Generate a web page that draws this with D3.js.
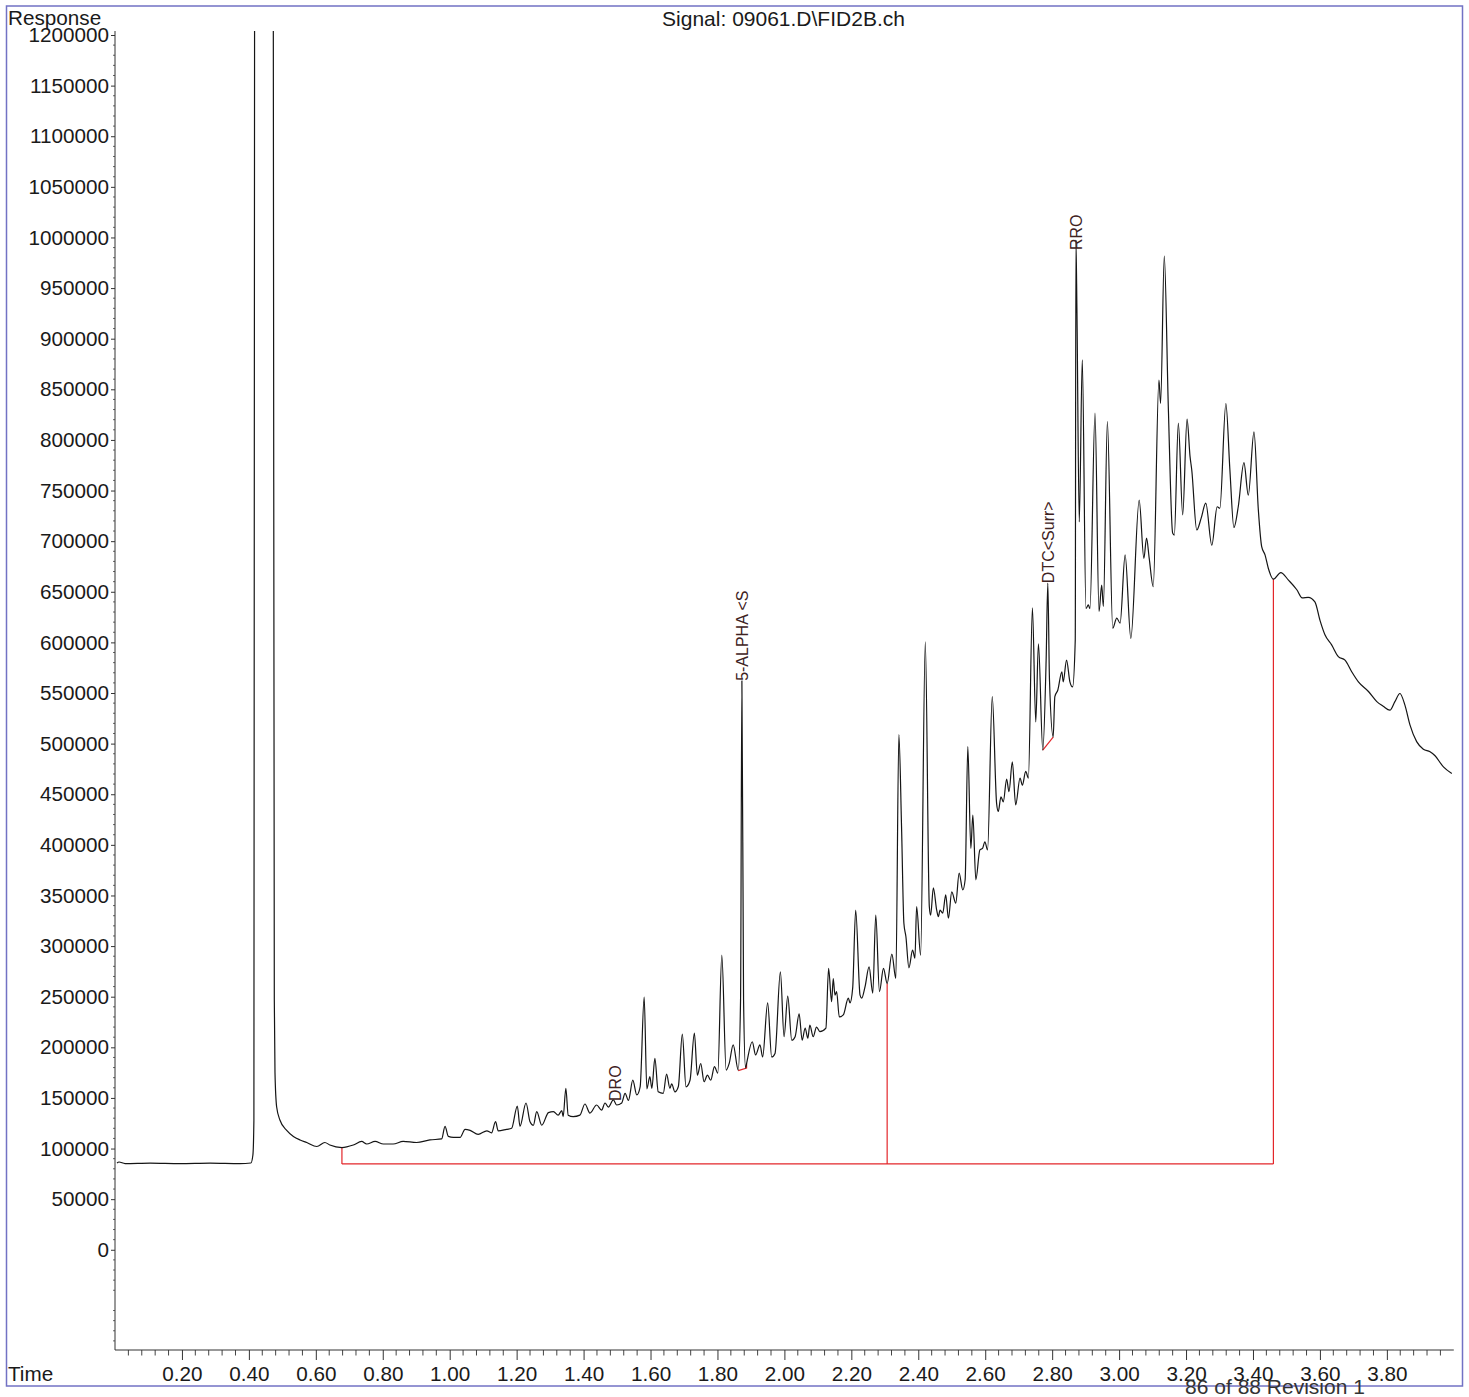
<!DOCTYPE html>
<html><head><meta charset="utf-8">
<script src="https://cdn.jsdelivr.net/npm/d3@7"></script>
<style>body{margin:0;background:#fff}</style>
</head><body>
<svg id="chart" width="1469" height="1397"></svg>
<script>
// ---- data ----
const times = [
0.006,0.012,0.030,0.105,0.194,0.284,0.373,0.406,0.412,0.415,
0.417,0.421,0.445,0.471,0.473,0.476,0.478,0.483,0.493,0.513,
0.533,0.553,0.573,0.603,0.627,0.642,0.678,0.712,0.737,0.752,
0.777,0.802,0.831,0.861,0.901,0.941,0.976,0.986,0.996,1.011,
1.031,1.046,1.061,1.085,1.111,1.125,1.137,1.145,1.170,1.185,
1.202,1.210,1.228,1.240,1.250,1.260,1.275,1.295,1.310,1.324,
1.335,1.339,1.347,1.354,1.369,1.389,1.404,1.419,1.439,1.454,
1.464,1.474,1.489,1.499,1.514,1.524,1.534,1.547,1.559,1.569,
1.581,1.589,1.598,1.604,1.613,1.623,1.638,1.648,1.658,1.663,
1.673,1.683,1.695,1.706,1.718,1.731,1.740,1.750,1.760,1.770,
1.780,1.791,1.801,1.813,1.826,1.835,1.847,1.862,1.869,1.873,
1.878,1.884,1.887,1.904,1.914,1.927,1.935,1.950,1.962,1.972,
1.988,1.999,2.010,2.022,2.032,2.044,2.053,2.062,2.070,2.076,
2.086,2.096,2.106,2.124,2.132,2.141,2.146,2.151,2.156,2.164,
2.176,2.191,2.196,2.204,2.213,2.226,2.231,2.241,2.253,2.264,
2.273,2.284,2.296,2.307,2.321,2.333,2.342,2.350,2.357,2.363,
2.372,2.383,2.390,2.395,2.407,2.421,2.433,2.437,2.445,2.455,
2.460,2.465,2.473,2.482,2.490,2.500,2.512,2.522,2.533,2.540,
2.548,2.557,2.563,2.572,2.584,2.592,2.599,2.607,2.621,2.634,
2.639,2.647,2.654,2.664,2.671,2.681,2.691,2.704,2.711,2.721,
2.729,2.741,2.751,2.759,2.772,2.782,2.787,2.792,2.803,2.808,
2.817,2.829,2.833,2.843,2.853,2.861,2.869,2.871,2.874,2.881,
2.890,2.901,2.908,2.913,2.928,2.940,2.948,2.953,2.965,2.981,
2.993,3.003,3.018,3.035,3.060,3.074,3.082,3.090,3.102,3.119,
3.124,3.135,3.147,3.160,3.165,3.177,3.190,3.203,3.212,3.217,
3.232,3.245,3.259,3.277,3.293,3.301,3.319,3.331,3.343,3.356,
3.373,3.386,3.403,3.416,3.426,3.436,3.446,3.461,3.483,3.506,
3.531,3.547,3.565,3.585,3.600,3.615,3.635,3.655,3.675,3.695,
3.715,3.745,3.770,3.789,3.809,3.824,3.839,3.854,3.869,3.889,
3.909,3.929,3.944,3.969,3.994
];
const responses = [
85700,86700,85200,85700,85200,85700,85200,85700,93600,128000,
1210000,1500000,1900000,1500000,1210000,247000,175000,141000,128000,118000,
112000,108500,106000,102000,106000,103500,101000,103500,107000,104500,
107000,104500,104500,107000,106000,108500,109500,122000,112000,111000,
111000,119000,118000,114000,117500,115500,126500,117500,119000,120000,
142000,122000,145000,126500,123000,136500,123000,135500,136500,133000,
137500,131500,159500,133000,131500,133000,144000,135000,143000,138000,
145000,141000,148000,143000,145000,154500,147500,167500,153000,161000,
249500,159000,171000,159500,189000,156000,154500,173500,159500,164000,
156000,161000,213000,161000,167500,214000,172500,184000,166000,172500,
167500,181000,174500,291000,177500,184000,202500,177500,247000,562000,
247000,179500,184000,205500,192500,202500,190500,244000,190500,194000,
274500,210500,250500,207000,210500,233000,207000,219000,209000,222000,
210500,220000,215500,219000,278000,245000,268000,251500,255000,230000,
232000,248500,244000,258500,335500,251500,248500,260000,279500,253500,
330500,255000,278000,263000,292000,268000,509000,418000,322500,309500,
278500,296000,288000,339000,291000,600500,339000,330500,357500,335500,
329000,335500,332500,350500,327500,353500,342500,372000,355500,365500,
497000,396500,429500,365500,395000,396500,403000,395000,546500,441000,
433000,447500,442500,465000,452500,482000,439500,466000,459000,472500,
466000,634000,521500,598500,493500,582500,658500,563000,506500,546500,
553000,571000,561000,582500,561000,556000,602500,997500,928500,719000,
879000,633500,637000,633500,826500,630500,656500,635500,818000,614000,
624000,619000,686500,604000,740500,683000,703000,683000,655000,859000,
836000,981500,833000,708000,706000,816500,726000,820500,783500,770500,
711000,722500,737500,696000,734000,732500,836000,770500,713500,734000,
777500,745500,808000,731000,694500,686500,673000,662500,669000,661500,
652000,644000,644500,640000,622000,607500,597500,586000,582500,571000,
561000,551500,541500,537000,533000,541500,549500,538000,518500,502000,
494500,492000,488000,477000,470500
];
const xTickValues = [0.2,0.4,0.6,0.8,1.0,1.2,1.4,1.6,1.8,2.0,2.2,2.4,2.6,2.8,3.0,3.2,3.4,3.6,3.8];
const yTickValues = [0,50000,100000,150000,200000,250000,300000,350000,400000,450000,500000,550000,600000,650000,700000,750000,800000,850000,900000,950000,1000000,1050000,1100000,1150000,1200000];
const peakNames = ["DRO","5-ALPHA <S","DTC<Surr>","RRO"];
const peakTimes = [1.494,1.873,2.787,2.873];
const peakResponses = [147000,562000,658500,987600];
const dropTimes = [0.678,2.307,3.461];
const dropResponses = [101000,263000,662500];
const baselineLevel = 84800;
const alphaBaseTimes = [1.862,1.887,1.887];
const alphaBaseResponses = [177000,179500,184000];
const dtcBaseTimes = [2.772,2.803];
const dtcBaseResponses = [493500,506500];
const titleText = "Signal: 09061.D\\FID2B.ch";
const footerText = "86 of 88 Revision 1";

// ---- drawing ----
const FONT = "'Liberation Sans', Arial, Helvetica, sans-serif";
const svg = d3.select("#chart");
const x = d3.scaleLinear().domain([0, 4]).range([115, 1453.8]);
const y = d3.scaleLinear().domain([-99000, 1200000]).range([1350, 35]);

// frame
svg.append("rect").attr("x", 6.5).attr("y", 6).attr("width", 1456).attr("height", 1380)
  .attr("fill", "none").attr("stroke", "#7272c4").attr("stroke-width", 1.5);

// clip
svg.append("defs").append("clipPath").attr("id", "plotclip")
  .append("rect").attr("x", 115).attr("y", 31).attr("width", 1340).attr("height", 1319);

// minor y ticks
const yMinor = d3.range(-90000, 1200001, 10000).filter(v => v % 50000 !== 0);
svg.append("g").selectAll("line").data(yMinor).join("line")
  .attr("x1", 113).attr("x2", 115).attr("y1", d => y(d)).attr("y2", d => y(d))
  .attr("stroke", "#666").attr("stroke-width", 1);
// minor x ticks
const xMinor = d3.range(1, 100).map(i => i * 0.04).filter(v => Math.abs(v / 0.2 - Math.round(v / 0.2)) > 1e-6);
svg.append("g").selectAll("line").data(xMinor).join("line")
  .attr("x1", d => x(d)).attr("x2", d => x(d)).attr("y1", 1350).attr("y2", 1355.5)
  .attr("stroke", "#444").attr("stroke-width", 1);

// y axis
const gy = svg.append("g").attr("transform", "translate(115,0)")
  .call(d3.axisLeft(y).tickValues(yTickValues).tickSize(4).tickPadding(2).tickFormat(d3.format("d")));
gy.select(".domain").remove();
gy.selectAll("line").attr("stroke", "#333");
gy.selectAll("text").attr("font-family", FONT).attr("font-size", 20.7).attr("fill", "#1a1a1a");
// x axis
const gx = svg.append("g").attr("transform", "translate(0,1350)")
  .call(d3.axisBottom(x).tickValues(xTickValues).tickSize(10).tickFormat(d3.format(".2f")));
gx.select(".domain").remove();
gx.selectAll("line").attr("stroke", "#333");
gx.selectAll("text").attr("font-family", FONT).attr("font-size", 20.7).attr("fill", "#1a1a1a")
  .attr("y", 31).attr("dy", 0);

// axis lines
svg.append("line").attr("x1", 115).attr("x2", 115).attr("y1", 31).attr("y2", 1350)
  .attr("stroke", "#333").attr("stroke-width", 1);
svg.append("line").attr("x1", 115).attr("x2", 1453.8).attr("y1", 1350).attr("y2", 1350)
  .attr("stroke", "#333").attr("stroke-width", 1);

const plot = svg.append("g").attr("clip-path", "url(#plotclip)");

// red integration baselines
const red = "#e3262a";
const rline = d3.line().x(d => x(d[0])).y(d => y(d[1]));
plot.append("path").attr("d", rline([[dropTimes[0], baselineLevel], [dropTimes[dropTimes.length - 1], baselineLevel]]))
  .attr("fill", "none").attr("stroke", red).attr("stroke-width", 1.2);
dropTimes.forEach((t, i) => {
  plot.append("path").attr("d", rline([[t, baselineLevel], [t, dropResponses[i]]]))
    .attr("fill", "none").attr("stroke", red).attr("stroke-width", 1.2);
});
plot.append("path").attr("d", rline(alphaBaseTimes.map((t, i) => [t, alphaBaseResponses[i]])))
  .attr("fill", "none").attr("stroke", red).attr("stroke-width", 1.2);
plot.append("path").attr("d", rline(dtcBaseTimes.map((t, i) => [t, dtcBaseResponses[i]])))
  .attr("fill", "none").attr("stroke", red).attr("stroke-width", 1.2);

// signal trace
const n = Math.min(times.length, responses.length);
const pts = d3.range(n).map(i => [times[i], responses[i]]);
plot.append("path").datum(pts)
  .attr("d", d3.line().x(d => x(d[0])).y(d => y(d[1])).curve(d3.curveMonotoneX))
  .attr("fill", "none").attr("stroke", "#151515").attr("stroke-width", 1.2).attr("stroke-linejoin", "round");

// peak labels
peakNames.forEach((name, i) => {
  svg.append("text")
    .attr("transform", `translate(${x(peakTimes[i])},${y(peakResponses[i])}) rotate(-90)`)
    .attr("dy", "0.36em")
    .attr("font-family", FONT).attr("font-size", 16).attr("fill", "#3e2222")
    .text(name);
});

// titles
svg.append("text").attr("x", 8).attr("y", 25).attr("font-family", FONT).attr("font-size", 20.7)
  .attr("fill", "#1a1a1a").text("Response");
svg.append("text").attr("x", 8).attr("y", 1381).attr("font-family", FONT).attr("font-size", 20.7)
  .attr("fill", "#1a1a1a").text("Time");
svg.append("text").attr("x", 783.5).attr("y", 26).attr("text-anchor", "middle").attr("font-family", FONT)
  .attr("font-size", 21).attr("fill", "#1a1a1a").text(titleText);
svg.append("text").attr("x", 1275).attr("y", 1394).attr("text-anchor", "middle").attr("font-family", FONT)
  .attr("font-size", 21).attr("fill", "#333").text(footerText);
</script>
</body></html>
